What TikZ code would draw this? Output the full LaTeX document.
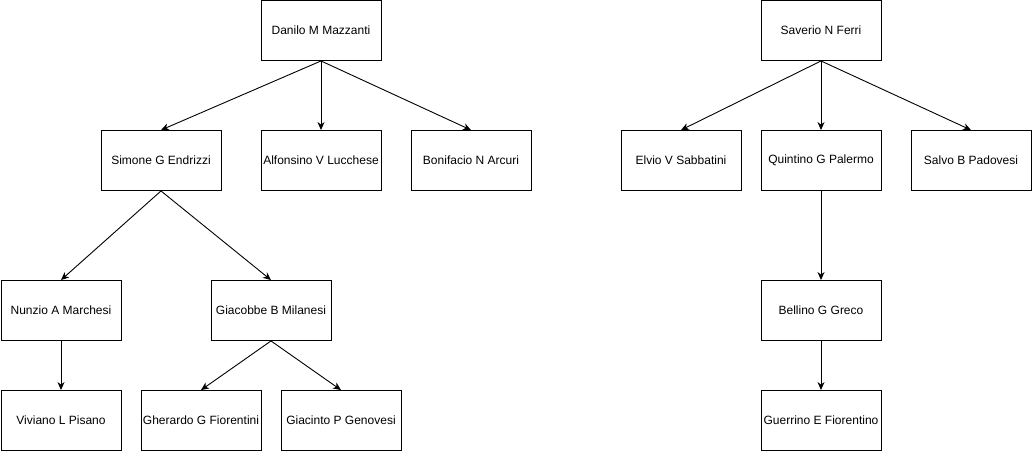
\documentclass[tikz,border=0pt]{standalone}
\usepackage{fontspec}
\setmainfont{Liberation Sans}
\usetikzlibrary{arrows.meta}
\begin{document}
\begin{tikzpicture}[>={Stealth[length=8pt,width=7pt,inset=2.5pt]},x=1pt,y=-1pt,line width=0.9pt,
  person/.style={draw,minimum width=120pt,minimum height=60pt,inner sep=0pt,font=\fontsize{12}{14}\selectfont}]
\useasboundingbox (0,0) rectangle (1033,456);
% left tree
\node[person](danilo) at (321,30.5){Danilo M Mazzanti};
\node[person](simone) at (161,160.5){Simone G Endrizzi};
\node[person](alfonsino) at (321,160.5){Alfonsino V Lucchese};
\node[person](bonifacio) at (471,160.5){Bonifacio N Arcuri};
\node[person](nunzio) at (61,310.5){Nunzio A Marchesi};
\node[person](giacobbe) at (271,310.5){Giacobbe B Milanesi};
\node[person](viviano) at (61,420.5){Viviano L Pisano};
\node[person](gherardo) at (201,420.5){Gherardo G Fiorentini};
\node[person](giacinto) at (341,420.5){Giacinto P Genovesi};
% right tree
\node[person](saverio) at (821,30.5){Saverio N Ferri};
\node[person](elvio) at (681,160.5){Elvio V Sabbatini};
\node[person](quintino) at (821,160.5){Quintino G Palermo};
\node[person](salvo) at (971,160.5){Salvo B Padovesi};
\node[person](bellino) at (821,310.5){Bellino G Greco};
\node[person](guerrino) at (821,420.5){Guerrino E Fiorentino};
\draw[->](danilo.south)--(simone.north);
\draw[->](danilo.south)--(alfonsino.north);
\draw[->](danilo.south)--(bonifacio.north);
\draw[->](simone.south)--(nunzio.north);
\draw[->](simone.south)--(giacobbe.north);
\draw[->](nunzio.south)--(viviano.north);
\draw[->](giacobbe.south)--(gherardo.north);
\draw[->](giacobbe.south)--(giacinto.north);
\draw[->](saverio.south)--(elvio.north);
\draw[->](saverio.south)--(quintino.north);
\draw[->](saverio.south)--(salvo.north);
\draw[->](quintino.south)--(bellino.north);
\draw[->](bellino.south)--(guerrino.north);
\end{tikzpicture}
\end{document}
